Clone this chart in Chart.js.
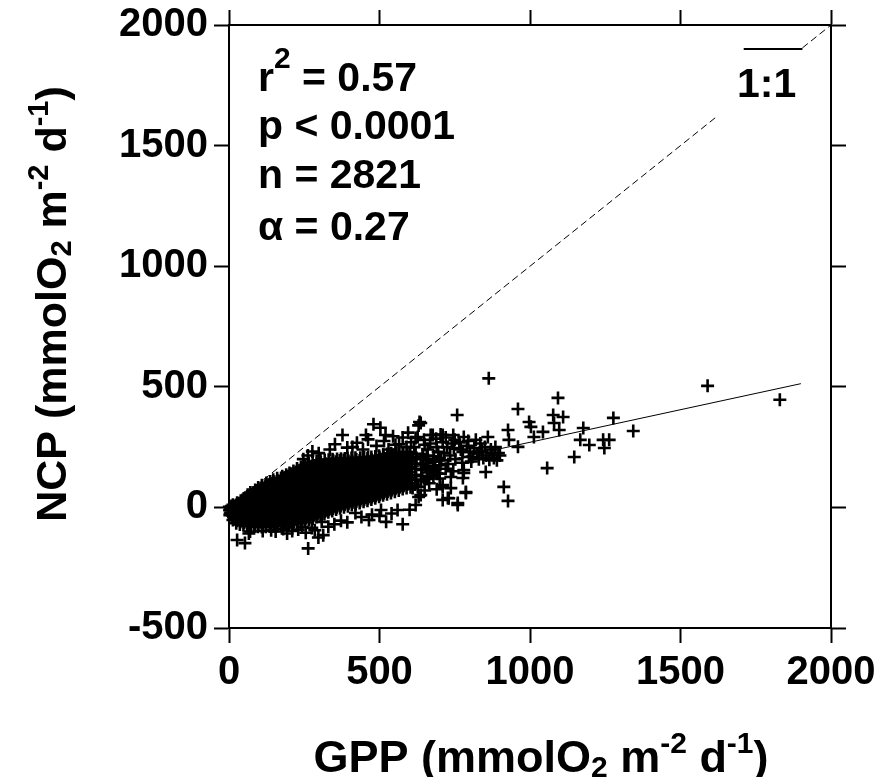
<!DOCTYPE html>
<html>
<head>
<meta charset="utf-8">
<script src="https://cdn.jsdelivr.net/npm/chart.js@4.4.1/dist/chart.umd.min.js"></script>
<style>
html,body{margin:0;padding:0;background:#fff;}
#wrap{width:891px;height:777px;position:relative;}
</style>
</head>
<body>
<div id="wrap"><canvas id="c" width="891" height="777"></canvas></div>
<script>
// ---------- DATA ----------
const xTickValues = [0, 500, 1000, 1500, 2000];
const yTickValues = [-500, 0, 500, 1000, 1500, 2000];

// dense cloud, GPP 0-200  [GPP, NCP]
const cloudLow = [
[3,-32],[6,-21],[2,-12],[5,-3],[8,6],[4,-26],[7,-8],[1,2],
[13,-52],[15,-41],[12,-33],[16,-22],[14,-14],[11,-5],[17,4],[13,11],[15,-28],
[24,-66],[27,-55],[23,-46],[26,-37],[25,-27],[28,-18],[22,-9],[26,1],[24,10],[27,19],
[36,-71],[38,-60],[35,-50],[39,-41],[37,-31],[34,-22],[40,-12],[36,-3],[38,8],[35,17],[39,28],
[48,-74],[50,-63],[47,-54],[51,-44],[49,-35],[46,-25],[52,-16],[48,-6],[50,4],[47,14],[51,24],[49,37],
[60,-76],[62,-65],[59,-55],[63,-46],[61,-36],[58,-27],[64,-17],[60,-8],[62,2],[59,12],[63,22],[61,33],[60,45],[62,52],
[72,-78],[74,-68],[71,-58],[75,-48],[73,-39],[70,-29],[76,-20],[72,-10],[74,0],[71,10],[75,20],[73,31],[72,42],[74,53],[71,62],
[84,-79],[86,-69],[83,-59],[87,-50],[85,-40],[82,-30],[88,-21],[84,-11],[86,-1],[83,9],[87,19],[85,30],[84,41],[86,51],[83,62],[87,72],
[96,-80],[98,-70],[95,-60],[99,-51],[97,-41],[94,-32],[100,-22],[96,-12],[98,-2],[95,8],[99,18],[97,29],[96,39],[98,50],[95,61],[99,71],[97,82],
[109,-81],[111,-71],[108,-62],[112,-52],[110,-42],[107,-33],[113,-23],[109,-13],[111,-3],[108,7],[112,17],[110,28],[109,38],[111,49],[108,60],[112,70],[110,81],[109,92],
[122,-80],[124,-70],[121,-60],[125,-50],[123,-41],[120,-31],[126,-21],[122,-11],[124,-1],[121,9],[125,20],[123,30],[122,41],[124,52],[121,62],[125,73],[123,84],[122,95],[124,101],
[135,-79],[137,-69],[134,-59],[138,-49],[136,-39],[133,-30],[139,-20],[135,-10],[137,0],[134,10],[138,21],[136,31],[135,42],[137,53],[134,63],[138,74],[136,85],[135,96],[137,107],
[148,-78],[150,-68],[147,-58],[151,-48],[149,-38],[146,-28],[152,-19],[148,-9],[150,1],[147,11],[151,22],[149,32],[148,43],[150,54],[147,64],[151,75],[149,86],[148,96],[150,106],[147,115],
[161,-77],[163,-67],[160,-57],[164,-47],[162,-37],[159,-27],[165,-17],[161,-7],[163,3],[160,13],[164,24],[162,34],[161,45],[163,56],[160,66],[164,77],[162,88],[161,99],[163,110],[160,121],
[174,-76],[176,-65],[173,-55],[177,-45],[175,-35],[172,-25],[178,-15],[174,-5],[176,5],[173,15],[177,26],[175,36],[174,47],[176,58],[173,68],[177,79],[175,90],[174,101],[176,112],[173,122],[177,129],
[187,-74],[189,-64],[186,-54],[190,-44],[188,-34],[185,-24],[191,-14],[187,-4],[189,6],[186,16],[190,27],[188,37],[187,48],[189,59],[186,69],[190,80],[188,91],[187,102],[189,113],[186,124],[190,135]
];

// dense cloud, GPP 200-400
const cloudMid = [
[200,-72],[202,-62],[199,-52],[203,-42],[201,-32],[198,-22],[204,-12],[200,-2],[202,8],[199,18],[203,29],[201,39],[200,50],[202,61],[199,71],[203,82],[201,93],[200,104],[202,115],[199,126],[203,136],[201,143],
[213,-70],[215,-60],[212,-50],[216,-40],[214,-30],[211,-20],[217,-10],[213,0],[215,10],[212,20],[216,31],[214,41],[213,52],[215,63],[212,73],[216,84],[214,95],[213,106],[215,117],[212,128],[216,139],[214,151],
[226,-67],[228,-57],[225,-47],[229,-37],[227,-27],[224,-17],[230,-7],[226,3],[228,13],[225,23],[229,34],[227,44],[226,55],[228,66],[225,76],[229,87],[227,98],[226,109],[228,120],[225,131],[229,142],[227,152],[226,161],
[239,-63],[241,-53],[238,-43],[242,-33],[240,-23],[237,-13],[243,-3],[239,7],[241,17],[238,27],[242,38],[240,48],[239,59],[241,70],[238,80],[242,91],[240,102],[239,113],[241,124],[238,135],[242,146],[240,157],[239,168],
[252,-58],[254,-48],[251,-38],[255,-28],[253,-18],[250,-8],[256,2],[252,12],[254,22],[251,32],[255,43],[253,53],[252,64],[254,75],[251,85],[255,96],[253,107],[252,118],[254,129],[251,140],[255,151],[253,162],[252,176],
[265,-52],[267,-42],[264,-32],[268,-22],[266,-12],[263,-2],[269,8],[265,18],[267,28],[264,38],[268,49],[266,59],[265,70],[267,81],[264,91],[268,102],[266,113],[265,124],[267,135],[264,146],[268,157],[266,168],[265,183],
[278,-46],[280,-36],[277,-26],[281,-16],[279,-6],[276,4],[282,14],[278,24],[280,34],[277,44],[281,55],[279,65],[278,76],[280,87],[277,97],[281,108],[279,119],[278,130],[280,141],[277,152],[281,163],[279,174],[278,188],
[291,-40],[293,-30],[290,-20],[294,-10],[292,0],[289,10],[295,20],[291,30],[293,40],[290,50],[294,61],[292,71],[291,82],[293,93],[290,103],[294,114],[292,125],[291,136],[293,147],[290,158],[294,169],[292,180],[291,192],
[304,-33],[306,-23],[303,-13],[307,-3],[305,7],[302,17],[308,27],[304,37],[306,47],[303,57],[307,68],[305,78],[304,89],[306,100],[303,110],[307,121],[305,132],[304,143],[306,154],[303,165],[307,176],[305,186],[304,195],
[317,-27],[319,-17],[316,-7],[320,3],[318,13],[315,23],[321,33],[317,43],[319,53],[316,63],[320,74],[318,84],[317,95],[319,106],[316,116],[320,127],[318,138],[317,149],[319,160],[316,171],[320,182],[318,197],
[330,-20],[332,-10],[329,0],[333,10],[331,20],[328,30],[334,40],[330,50],[332,60],[329,70],[333,81],[331,91],[330,102],[332,113],[329,123],[333,134],[331,145],[330,156],[332,167],[329,178],[333,189],[331,198],
[343,-15],[345,-5],[342,5],[346,15],[344,25],[341,35],[347,45],[343,55],[345,65],[342,75],[346,86],[344,96],[343,107],[345,118],[342,128],[346,139],[344,150],[343,161],[345,172],[342,183],[346,194],[344,200],
[356,-9],[358,1],[355,11],[359,21],[357,31],[354,41],[360,51],[356,61],[358,71],[355,81],[359,92],[357,102],[356,113],[358,124],[355,134],[359,145],[357,156],[356,167],[358,178],[355,189],[359,201],
[369,-4],[371,6],[368,16],[372,26],[370,36],[367,46],[373,56],[369,66],[371,76],[368,86],[372,97],[370,107],[369,118],[371,129],[368,139],[372,150],[370,161],[369,172],[371,183],[368,194],[372,202],
[382,1],[384,11],[381,21],[385,31],[383,41],[380,51],[386,61],[382,71],[384,81],[381,91],[385,102],[383,112],[382,123],[384,134],[381,144],[385,155],[383,166],[382,177],[384,188],[381,197],[385,203],
[395,5],[397,15],[394,25],[398,35],[396,45],[393,55],[399,65],[395,75],[397,85],[394,95],[398,106],[396,116],[395,127],[397,138],[394,148],[398,159],[396,170],[395,181],[397,192],[394,204]
];

// dense cloud, GPP 400-700
const cloudHigh = [
[408,10],[410,20],[407,30],[411,40],[409,50],[406,60],[412,70],[408,80],[410,90],[407,100],[411,111],[409,121],[408,132],[410,143],[407,153],[411,164],[409,175],[408,186],[410,196],[407,205],
[421,14],[423,24],[420,34],[424,44],[422,54],[419,64],[425,74],[421,84],[423,94],[420,104],[424,115],[422,125],[421,136],[423,147],[420,157],[424,168],[422,179],[421,190],[423,199],[420,206],
[434,18],[436,28],[433,38],[437,48],[435,58],[432,68],[438,78],[434,88],[436,98],[433,108],[437,119],[435,129],[434,140],[436,151],[433,161],[437,172],[435,183],[434,194],[436,206],
[447,23],[449,33],[446,43],[450,53],[448,63],[445,73],[451,83],[447,93],[449,103],[446,113],[450,124],[448,134],[447,145],[449,156],[446,166],[450,177],[448,188],[447,198],[449,207],
[460,28],[462,38],[459,48],[463,58],[461,68],[458,78],[464,88],[460,98],[462,108],[459,118],[463,129],[461,139],[460,150],[462,161],[459,171],[463,182],[461,193],[460,203],[462,209],
[473,33],[475,43],[472,53],[476,63],[474,73],[471,83],[477,93],[473,103],[475,113],[472,123],[476,134],[474,144],[473,155],[475,166],[472,176],[476,187],[474,198],[473,209],
[486,38],[488,48],[485,58],[489,68],[487,78],[484,88],[490,98],[486,108],[488,118],[485,128],[489,139],[487,149],[486,160],[488,171],[485,181],[489,192],[487,203],[486,211],
[499,44],[501,54],[498,64],[502,74],[500,84],[497,94],[503,104],[499,114],[501,124],[498,134],[502,145],[500,155],[499,166],[501,177],[498,187],[502,198],[500,207],[499,214],
[512,50],[514,60],[511,70],[515,80],[513,90],[510,100],[516,110],[512,120],[514,130],[511,140],[515,151],[513,161],[512,172],[514,183],[511,193],[515,204],[513,212],[512,218],
[525,55],[527,66],[524,76],[528,86],[526,96],[523,106],[529,116],[525,126],[527,136],[524,146],[528,157],[526,167],[525,178],[527,189],[524,199],[528,210],[526,221],
[538,60],[540,71],[537,82],[541,93],[539,103],[536,113],[542,123],[538,133],[540,143],[537,153],[541,164],[539,174],[538,185],[540,196],[537,206],[541,216],[539,224],
[551,65],[553,77],[550,89],[554,100],[552,111],[549,121],[555,132],[551,143],[553,153],[550,164],[554,175],[552,186],[551,197],[553,208],[550,218],[554,227],
[564,70],[566,83],[563,95],[567,107],[565,118],[562,130],[568,141],[564,152],[566,163],[563,174],[567,185],[565,196],[564,207],[566,218],[563,228],
[577,76],[579,89],[576,102],[580,115],[578,128],[575,140],[581,152],[577,164],[579,176],[576,188],[580,200],[578,212],[577,222],[579,229],
[590,80],[592,95],[589,110],[593,124],[591,138],[588,152],[594,166],[590,180],[592,193],[589,206],[593,218],[591,228],
[603,84],[605,100],[602,116],[606,132],[604,148],[601,164],[607,179],[603,194],[605,209],[602,224],
[618,95],[622,115],[619,135],[621,160],[617,182],[623,205],[620,222],
[638,108],[642,130],[639,155],[641,178],[637,200],[643,220],
[658,118],[662,145],[659,172],[661,196],[657,215],
[679,130],[682,160],[678,190],[681,212],
[698,140],[702,175],[699,205]
];

// sparse points around and beyond the cloud
const sparsePoints = [
[377,300],[393,248],[480,345],[503,330],[577,290],[630,340],[620,288],[553,260],[530,240],[677,300],[710,300],
[277,232],[247,200],[633,354],[627,292],[670,300],[703,302],
[637,350],[747,246],[777,230],[797,209],[780,292],[758,383],
[863,535],[960,408],[997,354],[1003,334],[1077,383],[1093,454],[1110,375],[1080,350],[1097,321],[1043,313],
[1177,329],[1167,280],[1197,259],[1247,246],[1243,280],[1263,280],[1277,371],[1343,317],[1147,209],[1057,163],
[1013,292],[960,251],[927,321],[930,280],[913,85],[927,27],[860,292],[853,147],[780,155],[777,122],[787,60],
[760,10],[730,38],[737,80],[710,93],[1590,504],[1830,446],
[840,235],[855,215],[870,240],[880,205],[895,225],[850,250],[865,198],[885,250],[900,215],[845,205],[875,225],[890,195],
[790,255],[800,230],[815,245],[810,210],[825,225],[770,240],
[710,270],[725,250],[740,265],[715,225],[750,280],[735,215],
[650,260],[660,240],[690,250],[645,210],[680,200],[695,230],[655,185],[685,170],[670,150],[640,130],[700,120],
[665,100],[690,75],[650,70],[637,51],[627,85],[610,80],[630,43],[663,122],[710,85],[710,31],[737,126],[780,143],
[787,64],[760,18],[727,39],
[27,-135],[53,-148],[263,-170],[297,-125],[313,-115],[193,-108],[393,-62],[465,-52],[522,-60],[577,-70],
[505,-11],[560,-11],[475,-30],[420,-23],[308,-60],[243,-81],[66,-108],[112,-98],[70,-100],[140,-95],[180,-90],
[230,-92],[275,-85],
[262,215],[298,225],[335,240],[352,262],[410,250],[425,268],[445,240],[462,282],[490,255],[515,275],[545,295],
[565,262],[590,250],[605,270],[595,310],[455,300],[520,300],
[155,-100],[210,-98],[255,-105],[285,-95],[330,-80],[350,-70],[372,-55],[440,-40],[500,-35],[540,-25],[600,-10],[620,10],
[615,250],[648,280],[668,265],[688,285],[720,290],[745,300],[765,270],[795,275],[820,280],[835,265],
[705,195],[728,180],[752,200],[775,185],[805,190],[830,200],[720,160],[745,150],[690,140],[660,165]
];

// regression line (alpha = 0.27) and 1:1 reference line
const fitLine = [[0, 0], [1900, 513]];
const oneToOneMain = [[0, 0], [1620, 1620]];
const oneToOneEnd = [[1905, 1905], [2000, 2000]];
const oneToOneBar = [[1710, 1900], [1905, 1900]];

const statsLines = [
  [["r", 0], ["2", 1], [" = 0.57", 0]],
  [["p < 0.0001", 0]],
  [["n = 2821", 0]],
  [["\u03b1 = 0.27", 0]]
];
const xTitle = [["GPP (mmolO", 0], ["2", -1], [" m", 0], ["-2", 1], [" d", 0], ["-1", 1], [")", 0]];
const yTitle = [["NCP (mmolO", 0], ["2", -1], [" m", 0], ["-2", 1], [" d", 0], ["-1", 1], [")", 0]];
const ratioLabel = "1:1";

// ---------- CHART ----------
const FAM = '"Liberation Sans", Arial, Helvetica, sans-serif';
const toXY = arr => arr.map(p => ({x: p[0], y: p[1]}));
const allPoints = toXY([].concat(cloudLow, cloudMid, cloudHigh, sparsePoints));

function drawParts(ctx, parts, x, y, mainSize, smallSize, supRaise, subDrop, center) {
  const fontOf = t => 'bold ' + (t === 0 ? mainSize : smallSize) + 'px ' + FAM;
  let total = 0;
  parts.forEach(p => { ctx.font = fontOf(p[1]); total += ctx.measureText(p[0]).width; });
  let cx = center ? x - total / 2 : x;
  parts.forEach(p => {
    ctx.font = fontOf(p[1]);
    const dy = p[1] === 1 ? -supRaise : (p[1] === -1 ? subDrop : 0);
    ctx.fillText(p[0], cx, y + dy);
    cx += ctx.measureText(p[0]).width;
  });
}

const textPlugin = {
  id: 'texts',
  afterDraw(chart) {
    const ctx = chart.ctx;
    ctx.save();
    ctx.fillStyle = '#000';
    ctx.textBaseline = 'alphabetic';
    ctx.textAlign = 'left';
    const baselines = [91, 139, 188, 240];
    statsLines.forEach((line, i) => drawParts(ctx, line, 258, baselines[i], 41, 30, 23, 5, false));
    ctx.font = 'bold 41px ' + FAM;
    ctx.fillText(ratioLabel, 737, 97);
    drawParts(ctx, xTitle, 541, 772, 45, 30, 19, 5, true);
    ctx.save();
    ctx.translate(66, 304);
    ctx.rotate(-Math.PI / 2);
    drawParts(ctx, yTitle, 0, 0, 43, 29, 18, 5, true);
    ctx.restore();
    ctx.restore();
  }
};

const gridCfg = {drawOnChartArea: false, drawTicks: true, tickLength: 15, tickWidth: 2, tickColor: '#000'};
const borderCfg = {display: true, color: '#000', width: 2};
const tickFont = {family: FAM, size: 40, weight: 'bold'};
const noPadX = s => { s.paddingLeft = 0; s.paddingRight = 0; };
const noPadY = s => { s.paddingTop = 0; s.paddingBottom = 0; };

new Chart(document.getElementById('c'), {
  type: 'scatter',
  data: {
    datasets: [
      {data: allPoints, pointStyle: 'cross', pointRadius: 6.5, borderWidth: 2.6, borderColor: '#000', backgroundColor: '#000', clip: false, xAxisID: 'x', yAxisID: 'y'},
      {data: toXY(fitLine), showLine: true, pointRadius: 0, borderWidth: 1, borderColor: '#000', xAxisID: 'x', yAxisID: 'y'},
      {data: toXY(oneToOneMain), showLine: true, pointRadius: 0, borderWidth: 1, borderColor: '#000', borderDash: [7, 4], xAxisID: 'x', yAxisID: 'y'},
      {data: toXY(oneToOneEnd), showLine: true, pointRadius: 0, borderWidth: 1, borderColor: '#000', borderDash: [7, 4], xAxisID: 'x', yAxisID: 'y'},
      {data: toXY(oneToOneBar), showLine: true, pointRadius: 0, borderWidth: 2, borderColor: '#000', xAxisID: 'x', yAxisID: 'y'}
    ]
  },
  options: {
    responsive: false,
    animation: false,
    events: [],
    devicePixelRatio: 1,
    layout: {padding: 0},
    plugins: {legend: {display: false}, tooltip: {enabled: false}, title: {display: false}},
    scales: {
      x: {
        type: 'linear', position: 'bottom', min: 0, max: 2000,
        afterBuildTicks: s => { s.ticks = xTickValues.map(v => ({value: v})); },
        afterFit: s => { s.height = 149; noPadX(s); },
        ticks: {font: tickFont, color: '#000', padding: 6, maxRotation: 0, autoSkip: false, callback: v => String(v)},
        grid: gridCfg, border: borderCfg
      },
      x2: {
        type: 'linear', position: 'top', min: 0, max: 2000,
        afterBuildTicks: s => { s.ticks = xTickValues.map(v => ({value: v})); },
        afterFit: s => { s.height = 25; noPadX(s); },
        ticks: {display: false},
        grid: gridCfg, border: borderCfg
      },
      y: {
        type: 'linear', position: 'left', min: -500, max: 2000,
        afterBuildTicks: s => { s.ticks = yTickValues.map(v => ({value: v})); },
        afterFit: s => { s.width = 229; noPadY(s); },
        ticks: {font: tickFont, color: '#000', padding: 6, autoSkip: false, callback: v => String(v)},
        grid: gridCfg, border: borderCfg
      },
      y2: {
        type: 'linear', position: 'right', min: -500, max: 2000,
        afterBuildTicks: s => { s.ticks = yTickValues.map(v => ({value: v})); },
        afterFit: s => { s.width = 60; noPadY(s); },
        ticks: {display: false},
        grid: gridCfg, border: borderCfg
      }
    }
  },
  plugins: [textPlugin]
});
</script>
</body>
</html>
